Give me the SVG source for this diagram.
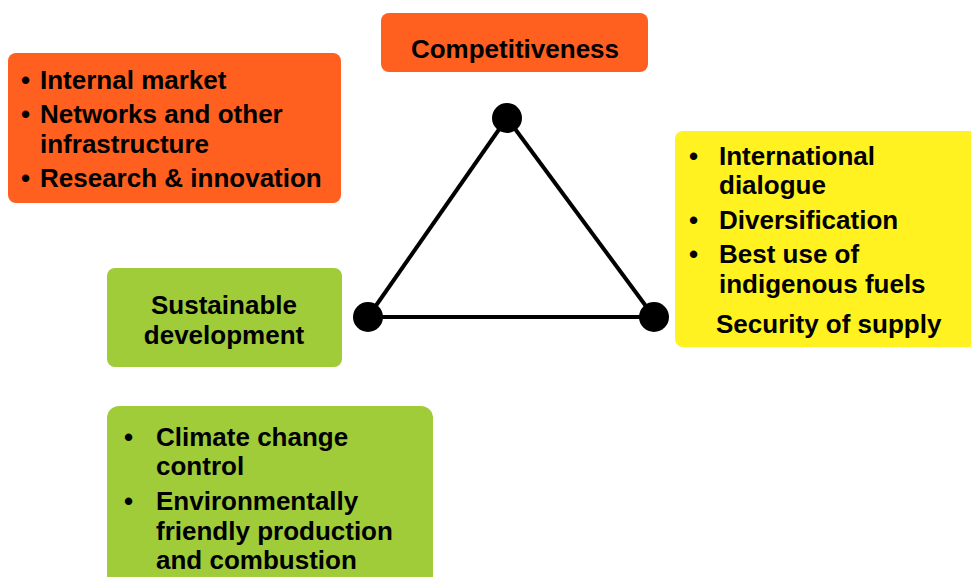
<svg xmlns="http://www.w3.org/2000/svg" width="971" height="577" viewBox="0 0 971 577">
  <style>
    text { font-family: "Liberation Sans", Arial, sans-serif; font-weight: bold; font-size: 26px; fill: #000; }
    .orange { fill: #FF5F1F; }
    .yellow { fill: #FFF220; }
    .green { fill: #A0CC3A; }
    .mid { text-anchor: middle; }
    .edge { stroke: #000; stroke-width: 4; fill: none; }
    .dot { fill: #000; }
  </style>
  <rect width="971" height="577" fill="#fff"/>

  <g id="competitiveness">
    <rect class="orange" x="381" y="13" width="267" height="59" rx="8"/>
    <text class="mid" x="515" y="58">Competitiveness</text>
  </g>

  <g id="competitiveness-items">
    <rect class="orange" x="8" y="53" width="333" height="150" rx="8"/>
    <text x="21" y="89">•</text><text x="40" y="89">Internal market</text>
    <text x="21" y="123">•</text><text x="40" y="123">Networks and other</text>
    <text x="40" y="153">infrastructure</text>
    <text x="21" y="187">•</text><text x="40" y="187">Research &amp; innovation</text>
  </g>

  <g id="security-of-supply">
    <rect class="yellow" x="675" y="131" width="310" height="216" rx="8"/>
    <text x="689" y="165">•</text><text x="719" y="165">International</text>
    <text x="719" y="194">dialogue</text>
    <text x="689" y="229">•</text><text x="719" y="229">Diversification</text>
    <text x="689" y="263">•</text><text x="719" y="263">Best use of</text>
    <text x="719" y="293">indigenous fuels</text>
    <text x="716" y="333">Security of supply</text>
  </g>

  <g id="sustainable-development">
    <rect class="green" x="107" y="268" width="235" height="99" rx="8"/>
    <text class="mid" x="224" y="314">Sustainable</text>
    <text class="mid" x="224" y="344">development</text>
  </g>

  <g id="sustainability-items">
    <rect class="green" x="107" y="406" width="326" height="190" rx="12"/>
    <text x="124" y="446">•</text><text x="156" y="446">Climate change</text>
    <text x="156" y="475">control</text>
    <text x="124" y="510">•</text><text x="156" y="510">Environmentally</text>
    <text x="156" y="540">friendly production</text>
    <text x="156" y="569">and combustion</text>
  </g>

  <g id="connectors">
    <line class="edge" x1="507" y1="118" x2="368" y2="317"/>
    <line class="edge" x1="507" y1="118" x2="654" y2="317"/>
    <line class="edge" x1="368" y1="317" x2="654" y2="317"/>
  </g>

  <g id="vertex-top"><circle class="dot" cx="507" cy="118" r="15"/></g>
  <g id="vertex-left"><circle class="dot" cx="368" cy="317" r="15"/></g>
  <g id="vertex-right"><circle class="dot" cx="654" cy="317" r="15"/></g>
</svg>
